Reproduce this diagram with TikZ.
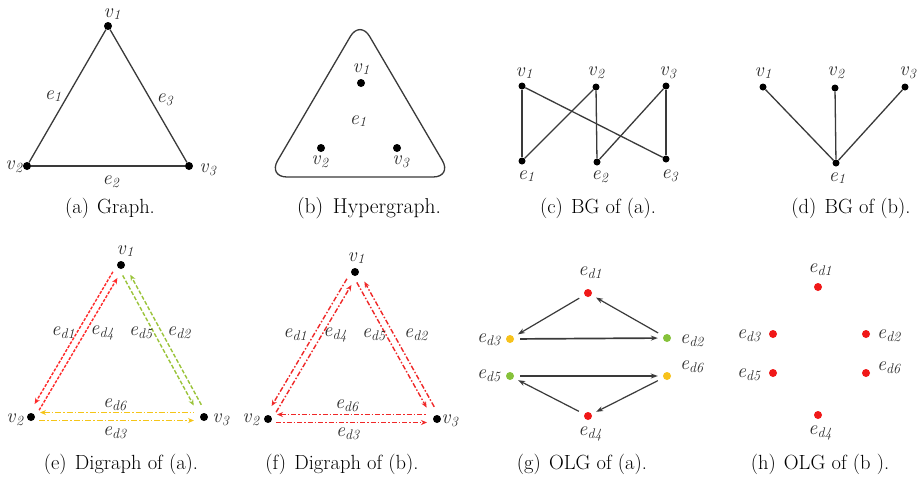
\documentclass[tikz,border=0pt]{standalone}
\usepackage{fontspec}
\setmainfont{Latin Modern Roman}
\usetikzlibrary{arrows.meta,calc}
\definecolor{edgegray}{HTML}{3A3A3A}
\definecolor{labgray}{HTML}{2A2A2A}
\definecolor{dred}{HTML}{FF2A2A}
\definecolor{dgreen}{HTML}{9BC43A}
\definecolor{dyellow}{HTML}{F5C518}
\definecolor{fred}{HTML}{F02828}
\definecolor{ored}{HTML}{F01818}
\definecolor{oyellow}{HTML}{F7C21B}
\definecolor{ogreen}{HTML}{86C23A}
\newcommand\lb[2]{\textit{#1}\raisebox{-0.32ex}{\fontsize{14}{14}\selectfont\textit{#2}}}
\newcommand\twin[5]{\draw[#1] ($(#2)!#4!(#3)!3.5pt!-90:(#3)$) -- ($(#3)!#5!(#2)!3.5pt!90:(#2)$);}
\tikzset{
  dot/.style={circle,fill=black,inner sep=0pt,minimum size=8pt},
  odot/.style={circle,fill=#1,inner sep=0pt,minimum size=8pt},
  lab/.style={text=labgray,font=\fontsize{20}{22}\selectfont,inner sep=0pt},
  captext/.style={font=\fontsize{20.5}{24}\selectfont,anchor=base,inner sep=0pt},
  edgeline/.style={draw=edgegray,line width=1.3pt},
  olg/.style={draw=edgegray,line width=1.2pt,-{Stealth[length=7pt,width=5pt]},shorten <=6pt,shorten >=5pt},
  dig/.style={line width=1.4pt,-{Stealth[length=6pt,width=5pt]}},
  digrev/.style={line width=1.4pt,{Stealth[length=6pt,width=5pt]}-},
  reddash/.style={dig,draw=dred,dash pattern=on 3pt off 1.5pt},
  greendash/.style={dig,draw=dgreen,dash pattern=on 4pt off 2pt},
  yeldash/.style={draw=dyellow,dash pattern=on 6pt off 2pt on 1.5pt off 2pt},
  reddd/.style={draw=fred,dash pattern=on 5pt off 2pt on 1.5pt off 2pt},
}
\begin{document}
\begin{tikzpicture}[x=1pt,y=-1pt]
\useasboundingbox[fill=white] (0,0) rectangle (921,483);

% ---------- (a) Graph ----------
\node[dot] (A1) at (108,26) {};
\node[dot] (A2) at (27,166) {};
\node[dot] (A3) at (189,166) {};
\draw[edgeline] (A1) -- (A2);
\draw[edgeline] (A2) -- (A3);
\draw[edgeline] (A3) -- (A1);
\node[lab] (lA1) at (112,14) {\lb{v}{1}};
\node[lab] (lA2) at (14,167) {\lb{v}{2}};
\node[lab] (lA3) at (208,170) {\lb{v}{3}};
\node[lab] (lAe1) at (53,96) {\lb{e}{1}};
\node[lab] (lAe3) at (165,100) {\lb{e}{3}};
\node[lab] (lAe2) at (111,182) {\lb{e}{2}};
\node[captext] (capA) at (110,213) {(a)\hspace{0.4em}Graph.};

% ---------- (b) Hypergraph ----------
\draw[edgeline,rounded corners=19pt] (360,20) -- (452,177) -- (268,177) -- cycle;
\node[dot] (B1) at (361,83) {};
\node[dot] (B2) at (321,148) {};
\node[dot] (B3) at (397,148) {};
\node[lab] (lB1) at (361,69) {\lb{v}{1}};
\node[lab] (lB2) at (320,162) {\lb{v}{2}};
\node[lab] (lB3) at (401,162) {\lb{v}{3}};
\node[lab] (lBe1) at (358,121) {\lb{e}{1}};
\node[captext,font=\fontsize{21.5}{24}\selectfont] (capB) at (369,213) {(b)\hspace{0.45em}Hypergraph.};

% ---------- (c) BG of (a) ----------
\node[dot,minimum size=7pt] (C1) at (522,86) {};
\node[dot,minimum size=7pt] (C2) at (596,87) {};
\node[dot,minimum size=7pt] (C3) at (666,86) {};
\node[dot,minimum size=7pt] (CE1) at (522,161) {};
\node[dot,minimum size=7pt] (CE2) at (597,162) {};
\node[dot,minimum size=7pt] (CE3) at (666,159) {};
\draw[edgeline] (C1) -- (CE1);
\draw[edgeline] (C1) -- (CE3);
\draw[edgeline] (C2) -- (CE1);
\draw[edgeline] (C2) -- (CE2);
\draw[edgeline] (C3) -- (CE2);
\draw[edgeline] (C3) -- (CE3);
\node[lab] (lC1) at (524,73) {\lb{v}{1}};
\node[lab] (lC2) at (596,73) {\lb{v}{2}};
\node[lab] (lC3) at (668,73) {\lb{v}{3}};
\node[lab] (lCE1) at (526,176) {\lb{e}{1}};
\node[lab] (lCE2) at (600,177) {\lb{e}{2}};
\node[lab] (lCE3) at (670,176) {\lb{e}{3}};
\node[captext] (capC) at (598,213) {(c)\hspace{0.4em}BG of (a).};

% ---------- (d) BG of (b) ----------
\node[dot,minimum size=7pt] (D1) at (763,87) {};
\node[dot,minimum size=7pt] (D2) at (835,88) {};
\node[dot,minimum size=7pt] (D3) at (905,87) {};
\node[dot,minimum size=7pt] (DE1) at (836,163) {};
\draw[edgeline] (D1) -- (DE1);
\draw[edgeline] (D2) -- (DE1);
\draw[edgeline] (D3) -- (DE1);
\node[lab] (lD1) at (763,73) {\lb{v}{1}};
\node[lab] (lD2) at (836,73) {\lb{v}{2}};
\node[lab] (lD3) at (908,73) {\lb{v}{3}};
\node[lab] (lDE1) at (837,178) {\lb{e}{1}};
\node[captext] (capD) at (851,213) {(d)\hspace{0.4em}BG of (b).};

% ---------- (e) Digraph of (a) ----------
\node[dot] (E1) at (121,265) {};
\node[dot] (E2) at (31,417) {};
\node[dot] (E3) at (204,417) {};
\twin{reddash}{E1}{E2}{10pt}{13pt}
\twin{reddash}{E2}{E1}{10pt}{13pt}
\twin{greendash}{E3}{E1}{12pt}{13pt}
\twin{greendash}{E1}{E3}{10pt}{15pt}
\draw[yeldash,dig] ($(E2)+(8,3.5)$) -- ($(E3)+(-10,3.5)$);
\draw[yeldash,digrev] ($(E2)+(9,-4.5)$) -- ($(E3)+(-10,-4.5)$);
\node[lab] (lE1) at (125,251) {\lb{v}{1}};
\node[lab] (lE2) at (15,420) {\lb{v}{2}};
\node[lab] (lE3) at (221,420) {\lb{v}{3}};
\node[lab] (lEd1) at (63,333) {\lb{e}{d1}};
\node[lab] (lEd4) at (102,333) {\lb{e}{d4}};
\node[lab] (lEd5) at (141,333) {\lb{e}{d5}};
\node[lab] (lEd2) at (179,333) {\lb{e}{d2}};
\node[lab] (lEd6) at (115,405) {\lb{e}{d6}};
\node[lab] (lEd3) at (115,433) {\lb{e}{d3}};
\node[captext] (capE) at (121,469) {(e)\hspace{0.4em}Digraph of (a).};

% ---------- (f) Digraph of (b) ----------
\node[dot] (F1) at (355,272) {};
\node[dot] (F2) at (268,419) {};
\node[dot] (F3) at (437,419) {};
\twin{reddd,dig}{F1}{F2}{10pt}{13pt}
\twin{reddd,dig}{F2}{F1}{10pt}{13pt}
\twin{reddd,dig}{F3}{F1}{12pt}{13pt}
\twin{reddd,dig}{F1}{F3}{10pt}{15pt}
\draw[reddd,dig] ($(F2)+(8,3.5)$) -- ($(F3)+(-10,3.5)$);
\draw[reddd,digrev] ($(F2)+(9,-4.5)$) -- ($(F3)+(-10,-4.5)$);
\node[lab] (lF1) at (356,258) {\lb{v}{1}};
\node[lab] (lF2) at (251,420) {\lb{v}{2}};
\node[lab] (lF3) at (450,421) {\lb{v}{3}};
\node[lab] (lFd1) at (295,335) {\lb{e}{d1}};
\node[lab] (lFd4) at (335,335) {\lb{e}{d4}};
\node[lab] (lFd5) at (374,335) {\lb{e}{d5}};
\node[lab] (lFd2) at (416,335) {\lb{e}{d2}};
\node[lab] (lFd6) at (347,406) {\lb{e}{d6}};
\node[lab] (lFd3) at (348,434) {\lb{e}{d3}};
\node[captext] (capF) at (342,469) {(f)\hspace{0.4em}Digraph of (b).};

% ---------- (g) OLG of (a) ----------
\node[odot=ored] (G1) at (588,293) {};
\node[odot=oyellow] (G3) at (510,339) {};
\node[odot=ogreen] (G2) at (667,338) {};
\node[odot=ogreen] (G5) at (510,376) {};
\node[odot=oyellow] (G6) at (667,376) {};
\node[odot=ored] (G4) at (588,416) {};
\draw[olg] (G1) -- (G3);
\draw[olg] (G2) -- (G1);
\draw[olg,line width=1.7pt] (G3) -- (G2);
\draw[olg,line width=1.7pt] (G5) -- (G6);
\draw[olg] (G6) -- (G4);
\draw[olg] (G4) -- (G5);
\node[lab] (lG1) at (590,273) {\lb{e}{d1}};
\node[lab] (lG3) at (489,340) {\lb{e}{d3}};
\node[lab] (lG2) at (692,341) {\lb{e}{d2}};
\node[lab] (lG5) at (489,376) {\lb{e}{d5}};
\node[lab] (lG6) at (692,367) {\lb{e}{d6}};
\node[lab] (lG4) at (590,434) {\lb{e}{d4}};
\node[captext] (capG) at (582,469) {(g)\hspace{0.4em}OLG of (a).};

% ---------- (h) OLG of (b) ----------
\node[odot=ored] (H1) at (818,287) {};
\node[odot=ored] (H3) at (773,334) {};
\node[odot=ored] (H2) at (866,334) {};
\node[odot=ored] (H5) at (773,373) {};
\node[odot=ored] (H6) at (866,373) {};
\node[odot=ored] (H4) at (818,415) {};
\node[lab] (lH1) at (820,270) {\lb{e}{d1}};
\node[lab] (lH3) at (749,336) {\lb{e}{d3}};
\node[lab] (lH2) at (889,336) {\lb{e}{d2}};
\node[lab] (lH5) at (749,375) {\lb{e}{d5}};
\node[lab] (lH6) at (889,368) {\lb{e}{d6}};
\node[lab] (lH4) at (820,433) {\lb{e}{d4}};
\node[captext] (capH) at (820,469) {(h)\hspace{0.4em}OLG of (b ).};
\end{tikzpicture}
\end{document}
